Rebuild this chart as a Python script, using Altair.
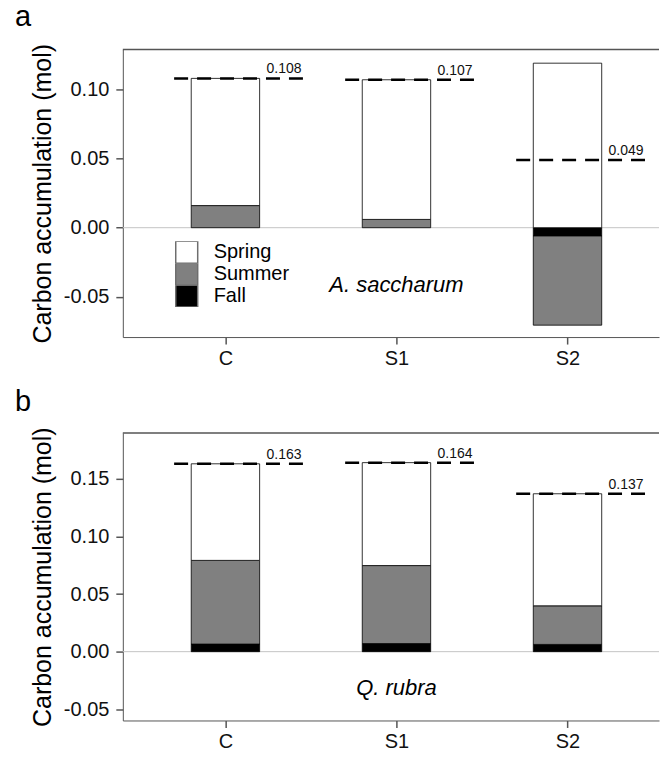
import altair as alt
import pandas as pd

# ---------------- data ----------------
treatments = ["C", "S1", "S2"]
seasons = ["Spring", "Summer", "Fall"]
season_colors = ["#ffffff", "#808080", "#000000"]

# panel a: A. saccharum (seasonal contributions, mol)
a_spring = [0.092, 0.101, 0.119]
a_summer = [0.016, 0.006, -0.0645]
a_fall = [0.0, 0.0, -0.006]
a_total = [0.108, 0.107, 0.049]
a_total_labels = ["0.108", "0.107", "0.049"]

# panel b: Q. rubra
b_spring = [0.0838, 0.0893, 0.0972]
b_summer = [0.0726, 0.0677, 0.0335]
b_fall = [0.0066, 0.0070, 0.0063]
b_total = [0.163, 0.164, 0.137]
b_total_labels = ["0.163", "0.164", "0.137"]

species = ["A. saccharum", "Q. rubra"]
panel_letters = ["a", "b"]

# ---------------- layout constants ----------------
FONT = "Liberation Sans"
W, H = 537, 288
X_DOMAIN = [0.4, 3.535]
BAR_HALF = 0.2
DASH_LEFT, DASH_RIGHT = 0.3, 0.475
LABEL_DX = 0.24
label_expr = "[" + ",".join("'%s'" % t for t in treatments) + "][datum.value - 1]"
ylab_expr = "datum.value < 0 ? '-' + format(-datum.value, '.2f') : format(datum.value, '.2f')"


def stack(spring, summer, fall):
    rows = []
    for i, t in enumerate(treatments):
        pos, neg = 0.0, 0.0
        for s, vals in (("Fall", fall), ("Summer", summer), ("Spring", spring)):
            v = vals[i]
            if v == 0:
                continue
            if v > 0:
                y0 = pos
                pos += v
            else:
                y0 = neg
                neg += v
            rows.append(dict(x=i + 1 - BAR_HALF, x2=i + 1 + BAR_HALF,
                             season=s, y=y0, y2=y0 + v))
    return pd.DataFrame(rows)


def panel(spring, summer, fall, total, total_labels, ydomain, yticks,
          sp_name, sp_pos, letter, letter_y, show_legend):
    bars_df = stack(spring, summer, fall)
    tot_df = pd.DataFrame({
        "x": [i + 1 - DASH_LEFT for i in range(3)],
        "x2": [i + 1 + DASH_RIGHT for i in range(3)],
        "xl": [i + 1 + LABEL_DX for i in range(3)],
        "y": total,
        "lab": total_labels,
    })
    xscale = alt.Scale(domain=X_DOMAIN, nice=False, zero=False)
    yscale = alt.Scale(domain=ydomain, nice=False, zero=False)

    zero = alt.Chart(pd.DataFrame({"y": [0.0]})).mark_rule(
        color="#c4c4c4", strokeWidth=1
    ).encode(y=alt.Y("y:Q", scale=yscale))

    if show_legend:
        legend = alt.Legend(
            title=None, orient="none", legendX=52, legendY=192,
            symbolType="square", symbolSize=484, symbolStrokeColor="#6e6e6e",
            symbolStrokeWidth=1.5, labelFontSize=20, labelFont=FONT,
            labelColor="#000000", labelOffset=15, rowPadding=0, padding=0,
            clipHeight=22,
        )
    else:
        legend = None

    bars = alt.Chart(bars_df).mark_rect(stroke="#000000", strokeWidth=0.8).encode(
        x=alt.X("x:Q", scale=xscale,
                axis=alt.Axis(values=[1, 2, 3], labelExpr=label_expr, title=None,
                              tickSize=7, labelPadding=4, domainColor="#555555",
                              tickColor="#555555", tickWidth=1.5, grid=False)),
        x2="x2:Q",
        y=alt.Y("y:Q", scale=yscale,
                axis=alt.Axis(values=yticks, labelExpr=ylab_expr,
                              title="Carbon accumulation (mol)",
                              tickSize=7, labelPadding=7, titlePadding=8,
                              domainColor="#555555", tickColor="#555555",
                              tickWidth=1.5, grid=False)),
        y2="y2:Q",
        fill=alt.Fill("season:N",
                      scale=alt.Scale(domain=seasons, range=season_colors),
                      legend=legend),
    )

    dashes = alt.Chart(tot_df).mark_rule(
        color="#000000", strokeWidth=2.5, strokeDash=[14, 9]
    ).encode(x="x:Q", x2="x2:Q", y="y:Q")

    labels = alt.Chart(tot_df).mark_text(
        align="left", baseline="alphabetic", dy=-5, fontSize=14, font=FONT,
        color="#111111"
    ).encode(x="xl:Q", y="y:Q", text="lab:N")

    sp = alt.Chart(pd.DataFrame({"x": [sp_pos[0]], "y": [sp_pos[1]], "t": [sp_name]})).mark_text(
        align="center", baseline="alphabetic", fontSize=22, font=FONT,
        fontStyle="italic", color="#000000"
    ).encode(x="x:Q", y="y:Q", text="t:N")

    border = alt.Chart(pd.DataFrame({"y": [0]})).mark_rule(
        color="#555555", strokeWidth=1.5
    ).encode(y=alt.value(0))

    let = alt.Chart(pd.DataFrame({"t": [letter]})).mark_text(
        align="left", baseline="alphabetic", fontSize=29, font=FONT, color="#000000"
    ).encode(x=alt.value(-108), y=alt.value(letter_y), text="t:N")

    return alt.layer(zero, bars, dashes, labels, sp, border, let).properties(
        width=W, height=H
    )


top = panel(a_spring, a_summer, a_fall, a_total, a_total_labels,
            [-0.0791, 0.1289], [-0.05, 0.0, 0.05, 0.10],
            species[0], (2.0, -0.0467), panel_letters[0], -24, True)
bottom = panel(b_spring, b_summer, b_fall, b_total, b_total_labels,
               [-0.0597, 0.1898], [-0.05, 0.0, 0.05, 0.10, 0.15],
               species[1], (2.0, -0.0378), panel_letters[1], -22, False)

chart = alt.vconcat(top, bottom, spacing=96, bounds="flush").resolve_scale(
    x="independent", y="independent", fill="independent"
).resolve_legend(fill="independent").properties(
    padding={"left": 15, "top": 2, "right": 0, "bottom": 0}
).configure_view(stroke=None).configure_axis(
    labelFont=FONT, titleFont=FONT, labelFontSize=20, titleFontSize=25,
    labelColor="#111111", titleColor="#000000", titleFontWeight="normal"
)

chart.save("out.html", embed_options={"renderer": "svg", "actions": False})
